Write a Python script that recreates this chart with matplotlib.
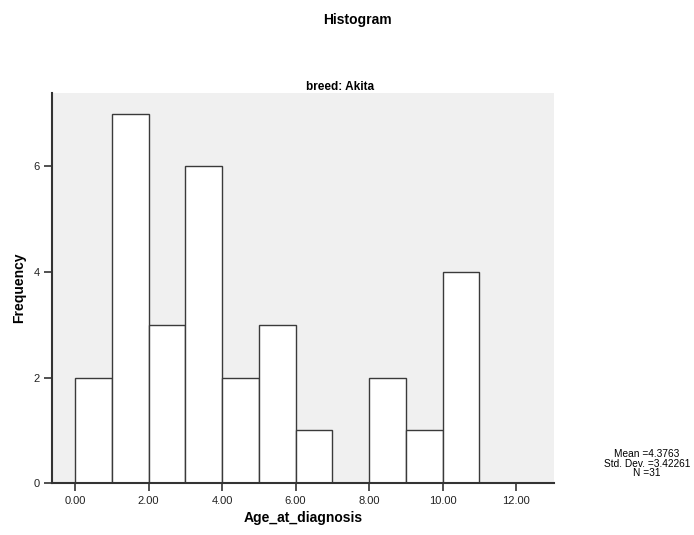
import numpy as np
import matplotlib
matplotlib.use("Agg")
from matplotlib import pyplot as plt

plt.rcParams["font.family"] = ["Liberation Sans", "DejaVu Sans"]

# histogram bins (width 1) and counts
bin_edges = [0, 1, 2, 3, 4, 5, 6, 7, 8, 9, 10, 11]
counts = [2, 7, 3, 6, 2, 3, 1, 0, 2, 1, 4]
x_ticks = [0, 2, 4, 6, 8, 10, 12]
x_tick_labels = ["0.00", "2.00", "4.00", "6.00", "8.00", "10.00", "12.00"]
y_ticks = [0, 2, 4, 6]
stats_lines = ["Mean =4.3763", "Std. Dev. =3.42261", "N =31"]

fig = plt.figure(figsize=(6.94, 5.35), dpi=100)
ax = fig.add_axes([0.075, 0.097, 0.723, 0.729])
ax.set_facecolor("#f0f0f0")

lefts = np.array(bin_edges[:-1])
widths = np.diff(bin_edges)
ax.bar(lefts, counts, width=widths, align="edge", color="white",
       edgecolor="#3a3a3a", linewidth=1.0)

ax.set_xlim(-0.63, 13.03)
ax.set_ylim(0, 7.39)
ax.set_xticks(x_ticks)
ax.set_xticklabels(x_tick_labels)
ax.set_yticks(y_ticks)
ax.tick_params(axis="both", labelsize=8, length=6, width=1.2, color="#333333",
               labelcolor="#222222", direction="out", pad=3)
for side in ("top", "right"):
    ax.spines[side].set_visible(False)
for side in ("left", "bottom"):
    ax.spines[side].set_linewidth(1.5)
    ax.spines[side].set_color("#333333")

ax.set_xlabel("Age_at_diagnosis", fontsize=10, fontweight="bold", labelpad=4)
ax.set_ylabel("Frequency", fontsize=10, fontweight="bold", labelpad=5)

fig.text(0.515, 0.962, "Histogram", ha="center", va="center",
         fontsize=10, fontweight="bold")
fig.text(0.49, 0.838, "breed: Akita", ha="center", va="center",
         fontsize=8.5, fontweight="bold")
fig.text(0.932, 0.133, "\n".join(stats_lines), ha="center", va="center",
         fontsize=7.3, linespacing=0.95)

fig.savefig("out.png", dpi=100)
plt.close(fig)
